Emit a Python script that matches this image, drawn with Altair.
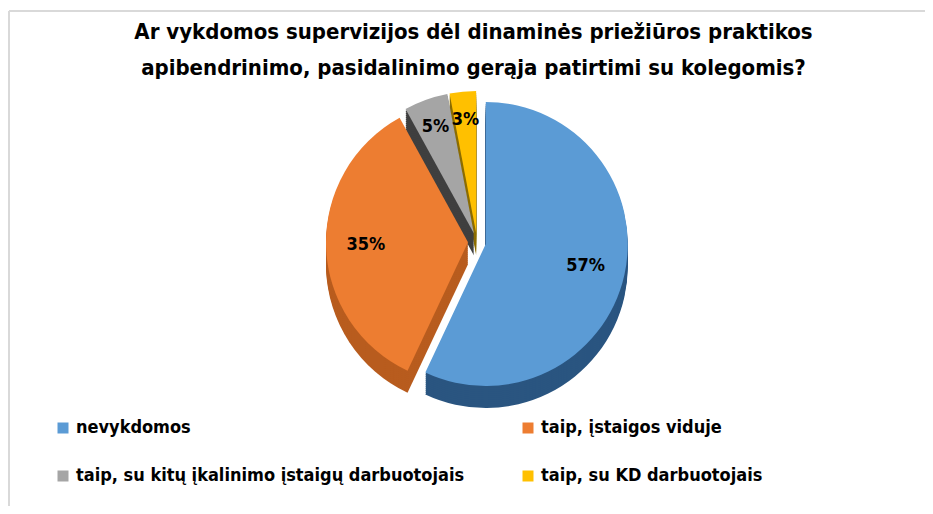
import altair as alt
import pandas as pd

TITLE_LINES = [
    "Ar vykdomos supervizijos dėl dinaminės priežiūros praktikos",
    "apibendrinimo, pasidalinimo gerąja patirtimi su kolegomis?",
]
CATEGORIES = [
    "nevykdomos",
    "taip, įstaigos viduje",
    " taip, su kitų įkalinimo įstaigų darbuotojais",
    "taip, su KD darbuotojais",
]
VALUES = [57, 35, 5, 3]
LABELS = ["57%", "35%", "5%", "3%"]
TOP_COLORS = ["#5B9BD5", "#ED7D31", "#A5A5A5", "#FFC000"]
SIDE_COLORS = ["#2A5580", "#B85C1E", "#3F3F3F", "#8C6D00"]

W, H = 917, 498
CX, CY = 468, 234
R = 142
EXPLODE = 9
DEPTH = 22
FONT = "DejaVu Sans Condensed, Liberation Sans, sans-serif"

df = pd.DataFrame({
    "cat": CATEGORIES,
    "value": VALUES,
    "label": LABELS,
    "order": list(range(len(CATEGORIES))),
    "side": SIDE_COLORS,
})

base = alt.Chart(df).transform_window(
    cum="sum(value)", sort=[alt.SortField("order")]
).transform_joinaggregate(
    total="sum(value)"
).transform_calculate(
    t0="(datum.cum - datum.value) / datum.total * 2 * PI",
    t1="datum.cum / datum.total * 2 * PI",
).transform_calculate(
    mid="(datum.t0 + datum.t1) / 2"
).transform_calculate(
    cx=f"{CX} + {EXPLODE} * sin(datum.mid)",
    cy=f"{CY} - {EXPLODE} * cos(datum.mid)",
    lr=f"datum.value < 10 ? {R * 0.8} : {R * 0.72}",
).transform_calculate(
    lx="datum.cx + datum.lr * sin(datum.mid)",
    ly="datum.cy - datum.lr * cos(datum.mid)",
)

layers = []
# border lines
layers.append(
    alt.Chart(alt.Data(values=[{}])).mark_rule(color="#D9D9D9", strokeWidth=2).encode(
        x=alt.value(0), x2=alt.value(W), y=alt.value(3)
    )
)
layers.append(
    alt.Chart(alt.Data(values=[{}])).mark_rule(color="#D9D9D9", strokeWidth=2).encode(
        x=alt.value(0), y=alt.value(3), y2=alt.value(H)
    )
)

# depth (side) layers
for d in range(DEPTH, 0, -2):
    layers.append(
        base.transform_calculate(cyd=f"datum.cy + {d}").mark_arc(radius=R).encode(
            x=alt.X("cx:Q", scale=None),
            y=alt.Y("cyd:Q", scale=None),
            theta=alt.Theta("t0:Q", scale=None),
            theta2="t1:Q",
            fill=alt.Fill("side:N", scale=None, legend=None),
            order=alt.Order("order:Q"),
        )
    )

# top faces
layers.append(
    base.mark_arc(radius=R).encode(
        x=alt.X("cx:Q", scale=None),
        y=alt.Y("cy:Q", scale=None),
        theta=alt.Theta("t0:Q", scale=None),
        theta2="t1:Q",
        color=alt.Color(
            "cat:N",
            scale=alt.Scale(domain=CATEGORIES, range=TOP_COLORS),
            sort=CATEGORIES,
            legend=alt.Legend(title=None, direction="horizontal"),
        ),
        order=alt.Order("order:Q"),
    )
)

# percent labels
layers.append(
    base.mark_text(font=FONT, fontSize=18, fontWeight="bold", color="black").encode(
        x=alt.X("lx:Q", scale=None),
        y=alt.Y("ly:Q", scale=None),
        text="label:N",
    )
)

# title
for i, line in enumerate(TITLE_LINES):
    layers.append(
        alt.Chart(alt.Data(values=[{}])).mark_text(
            text=line, font=FONT, fontSize=22, fontWeight="bold", color="black",
            align="center", baseline="middle",
        ).encode(x=alt.value(W / 2 + 6), y=alt.value(24 + 36 * i))
    )

chart = alt.layer(*layers).properties(
    width=W, height=H,
    autosize=alt.AutoSizeParams(type="fit", contains="padding"),
    padding=0,
).configure_view(stroke=None).configure_legend(
    orient="none",
    legendX=45,
    legendY=411,
    direction="horizontal",
    columns=2,
    columnPadding=54,
    rowPadding=30,
    padding=0,
    symbolType="square",
    symbolSize=121,
    symbolStrokeWidth=0,
    labelFont=FONT,
    labelFontSize=18,
    labelFontWeight="bold",
    labelColor="black",
    labelLimit=0,
)

chart.save("out.html", embed_options={"renderer": "svg", "actions": False})
